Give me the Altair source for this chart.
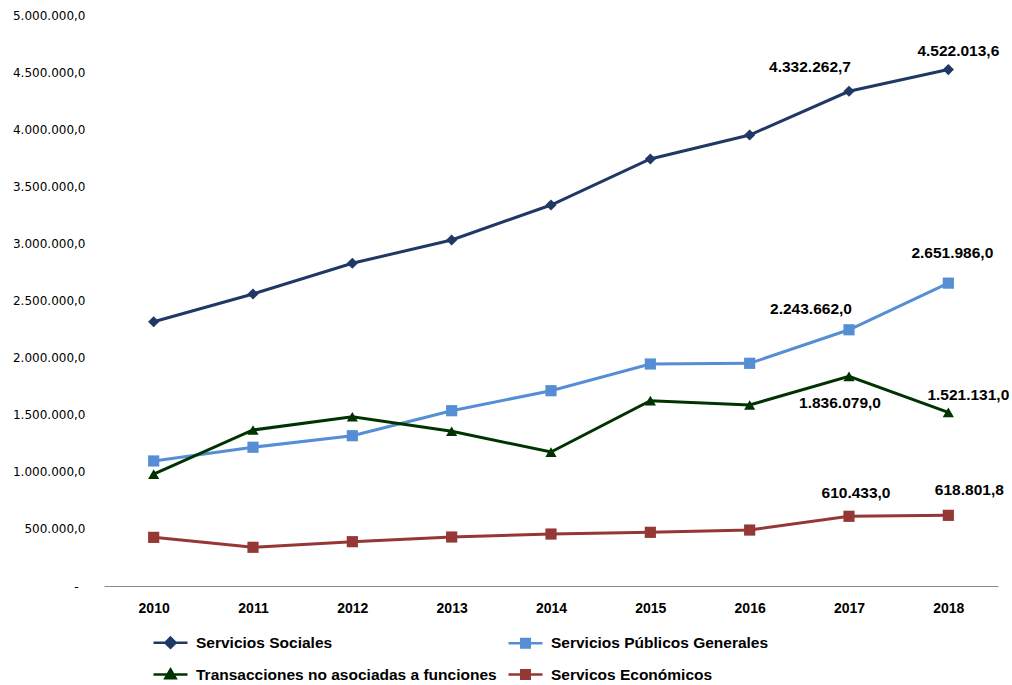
import altair as alt
import pandas as pd

years = ["2010", "2011", "2012", "2013", "2014", "2015", "2016", "2017", "2018"]
series_names = [
    "Servicios Sociales",
    "Servicios Públicos Generales",
    "Transacciones no asociadas a funciones",
    "Servicos Económicos",
]
servicios_sociales = [2314000, 2557000, 2826000, 3030000, 3336000, 3739000, 3949000, 4332262.7, 4522013.6]
servicios_publicos = [1095000, 1215000, 1316000, 1535000, 1710000, 1944000, 1950000, 2243662.0, 2651986.0]
transacciones = [980000, 1366000, 1482000, 1355000, 1173000, 1623000, 1585000, 1836079.0, 1521131.0]
servicios_economicos = [426000, 339000, 388000, 429000, 455000, 470000, 490000, 610433.0, 618801.8]
y_ticks = [0, 500000, 1000000, 1500000, 2000000, 2500000, 3000000, 3500000, 4000000, 4500000, 5000000]

colors = ["#1F3864", "#558ED5", "#003300", "#953735"]
shapes = ["diamond", "square", "triangle-up", "square"]

values_by_series = [servicios_sociales, servicios_publicos, transacciones, servicios_economicos]
rows = []
for name, vals in zip(series_names, values_by_series):
    for yr, v in zip(years, vals):
        rows.append({"serie": name, "anio": yr, "valor": v})
df = pd.DataFrame(rows)

# legend symbols: a line with a (stroke-filled) marker in the middle
legend_paths = [
    "M-1,0L1,0M0,-0.3L0.3,0L0,0.3L-0.3,0ZM0,-0.15L0.15,0L0,0.15L-0.15,0Z",
    "M-1,0L1,0M-0.25,-0.25L0.25,-0.25L0.25,0.25L-0.25,0.25ZM-0.12,-0.12L0.12,-0.12L0.12,0.12L-0.12,0.12ZM0,-0.1L0,0.1",
    "M-1,0L1,0M0,-0.3L0.3,0.22L-0.3,0.22ZM0,-0.12L0.13,0.12L-0.13,0.12Z",
    "M-1,0L1,0M-0.25,-0.25L0.25,-0.25L0.25,0.25L-0.25,0.25ZM-0.12,-0.12L0.12,-0.12L0.12,0.12L-0.12,0.12ZM0,-0.1L0,0.1",
]

legend = alt.Legend(
    title=None,
    orient="none",
    legendX=48,
    legendY=609,
    direction="horizontal",
    columns=2,
    columnPadding=6,
    rowPadding=3,
    symbolSize=1156,
    symbolStrokeWidth=2.5,
    symbolOpacity=1,
    labelOffset=7,
    labelFont="Liberation Sans",
    labelFontWeight="bold",
    labelFontSize=15.5,
    labelColor="#000000",
    labelLimit=400,
)

color_scale = alt.Scale(domain=series_names, range=colors)

x_enc = alt.X(
    "anio:O",
    scale=alt.Scale(type="point", padding=0.5),
    axis=alt.Axis(
        title=None,
        labelAngle=0,
        ticks=False,
        domainColor="#898989",
        domainWidth=1,
        labelFont="Liberation Sans",
        labelFontWeight="bold",
        labelFontSize=14,
        labelColor="#000000",
        labelPadding=15,
        grid=False,
    ),
)
y_enc = alt.Y(
    "valor:Q",
    scale=alt.Scale(domain=[0, 5000000], nice=False),
    axis=alt.Axis(
        title=None,
        values=y_ticks,
        format=",.1f",
        labelExpr="datum.value == 0 ? '-' : datum.label",
        grid=False,
        ticks=False,
        domain=False,
        labelFont="DejaVu Sans",
        labelFontSize=12,
        labelColor="#000000",
        labelPadding={"condition": {"test": "datum.value == 0", "value": 26}, "value": 19},
    ),
)

base = alt.Chart(df)

lines = base.mark_line(strokeWidth=3).encode(
    x=x_enc,
    y=y_enc,
    color=alt.Color("serie:N", scale=color_scale, legend=legend),
    detail="serie:N",
)

point_layers = []
for name, shp in zip(series_names, shapes):
    point_layers.append(
        base.transform_filter(alt.datum.serie == name)
        .mark_point(filled=True, size=125, opacity=1, shape=shp)
        .encode(
            x=x_enc,
            y=y_enc,
            color=alt.Color("serie:N", scale=color_scale, legend=legend),
        )
    )

legend_layer = (
    base.mark_point(filled=False, strokeWidth=2.5, opacity=0)
    .encode(
        x=x_enc,
        y=y_enc,
        color=alt.Color("serie:N", scale=color_scale, legend=legend),
        shape=alt.Shape("serie:N", scale=alt.Scale(domain=series_names, range=legend_paths), legend=legend),
    )
)

label_offsets = {
    (series_names[0], "2017"): (-39, -24),
    (series_names[0], "2018"): (10, -19),
    (series_names[1], "2017"): (-38, -21),
    (series_names[1], "2018"): (4, -30),
    (series_names[2], "2017"): (-9, 27),
    (series_names[2], "2018"): (20, -17),
    (series_names[3], "2017"): (7, -23),
    (series_names[3], "2018"): (21, -25),
}

label_layers = []
for (serie, yr), (dx, dy) in label_offsets.items():
    label_layers.append(
        base.transform_filter(
            (alt.datum.serie == serie) & (alt.datum.anio == yr)
        ).mark_text(
            dx=dx, dy=dy, align="center", baseline="middle",
            font="Liberation Sans", fontWeight="bold", fontSize=15.5, color="#000000",
        ).encode(
            x=x_enc,
            y=y_enc,
            text=alt.Text("valor:Q", format=",.1f"),
        )
    )

chart = alt.layer(legend_layer, lines, *point_layers, *label_layers).properties(
    width=894,
    height=571,
    autosize=alt.AutoSizeParams(type="none"),
    padding={"left": 104, "top": 15, "right": 14, "bottom": 99},
    background="#ffffff",
).configure(
    view=alt.ViewConfig(stroke=None),
    locale={"number": {"decimal": ",", "thousands": ".", "grouping": [3], "currency": ["", ""]}},
)

chart.save("out.html", embed_options={"renderer": "svg", "actions": False})
